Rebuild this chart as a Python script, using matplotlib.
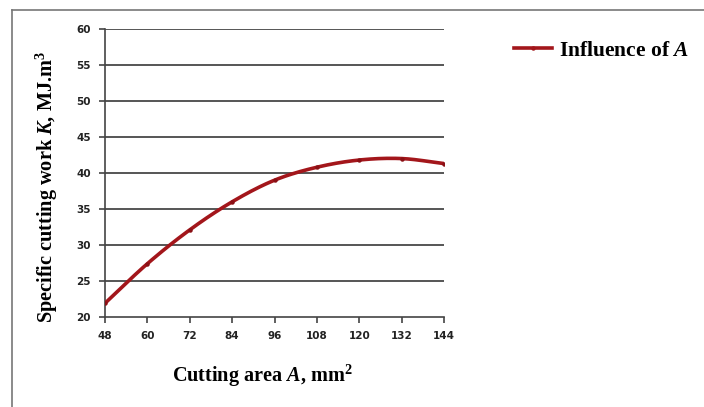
import matplotlib
matplotlib.use("Agg")
import numpy as np
import matplotlib.pyplot as plt
from matplotlib.lines import Line2D

area = [48, 60, 72, 84, 96, 108, 120, 132, 144]
work = [21.9, 27.4, 32.1, 36.0, 39.0, 40.8, 41.8, 42.0, 41.3]
xticks = [48, 60, 72, 84, 96, 108, 120, 132, 144]
yticks = [20, 25, 30, 35, 40, 45, 50, 55, 60]

plt.rcParams["mathtext.fontset"] = "custom"
plt.rcParams["mathtext.it"] = "Liberation Serif:italic:bold"
plt.rcParams["mathtext.rm"] = "Liberation Serif:bold"
plt.rcParams["mathtext.bf"] = "Liberation Serif:bold"


def catmull_rom(x, y, n=20):
    x = np.asarray(x, float)
    y = np.asarray(y, float)
    px = np.concatenate([[2 * x[0] - x[1]], x, [2 * x[-1] - x[-2]]])
    py = np.concatenate([[2 * y[0] - y[1]], y, [2 * y[-1] - y[-2]]])
    xs, ys = [], []
    for i in range(1, len(px) - 2):
        t = np.linspace(0, 1, n, endpoint=False)
        for p, out in ((px, xs), (py, ys)):
            p0, p1, p2, p3 = p[i - 1], p[i], p[i + 1], p[i + 2]
            out.extend(0.5 * ((2 * p1) + (-p0 + p2) * t
                              + (2 * p0 - 5 * p1 + 4 * p2 - p3) * t ** 2
                              + (-p0 + 3 * p1 - 3 * p2 + p3) * t ** 3))
    xs.append(x[-1])
    ys.append(y[-1])
    return np.array(xs), np.array(ys)


fig = plt.figure(figsize=(7.04, 4.07), dpi=100)
ax = fig.add_axes([0.149, 0.221, 0.482, 0.708])

# outer frame (left and top edges visible)
fig.add_artist(Line2D([12/704, 12/704], [0, 1 - 10/407], transform=fig.transFigure,
                      color="#777777", lw=1.2))
fig.add_artist(Line2D([12/704, 1], [1 - 10/407, 1 - 10/407], transform=fig.transFigure,
                      color="#777777", lw=1.2))

for y in yticks[1:]:
    ax.axhline(y, color="#555555", lw=1.4, zorder=1)

sx, sy = catmull_rom(area, work)
ax.plot(sx, sy, color="#A3161B", lw=2.6, solid_capstyle="round", zorder=3)
ax.plot(area, work, linestyle="none", marker="o", markersize=2.2, color="#8a1015", zorder=4)
handle = Line2D([], [], color="#A3161B", lw=2.6, marker="o", markersize=2.2)

ax.set_xlim(48, 144)
ax.set_ylim(20, 60)
ax.set_xticks(xticks)
ax.set_yticks(yticks)
ax.set_xticklabels([str(v) for v in xticks], fontsize=7.5, fontweight="bold",
                   family="DejaVu Sans", color="#222222")
ax.set_yticklabels([str(v) for v in yticks], fontsize=7.5, fontweight="bold",
                   family="DejaVu Sans", color="#222222")
for s in ["top", "right"]:
    ax.spines[s].set_visible(False)
ax.spines["left"].set_color("#444444")
ax.spines["bottom"].set_color("#444444")
ax.spines["left"].set_linewidth(1.2)
ax.spines["bottom"].set_linewidth(1.2)
ax.tick_params(axis="both", direction="out", length=4, width=1.2, color="#444444", pad=6)

ax.set_xlabel("Cutting area $\\mathit{A}$, mm$^\\mathbf{2}$", fontsize=14.6, fontweight="bold",
              family="Liberation Serif")
ax.xaxis.set_label_coords(0.463, -0.16)
ax.set_ylabel("Specific cutting work $\\mathit{K}$, MJ.m$^\\mathbf{3}$", fontsize=14.6,
              fontweight="bold", family="Liberation Serif")
ax.yaxis.set_label_coords(-0.131, 0.452)

fig.legend(handles=[handle], labels=["Influence of $\\mathit{A}$"], loc="upper left",
           bbox_to_anchor=(0.702, 0.947), frameon=False,
           prop={"family": "Liberation Serif", "weight": "bold", "size": 15.5},
           handlelength=1.8, handletextpad=0.3)

fig.savefig("out.png", dpi=100)
